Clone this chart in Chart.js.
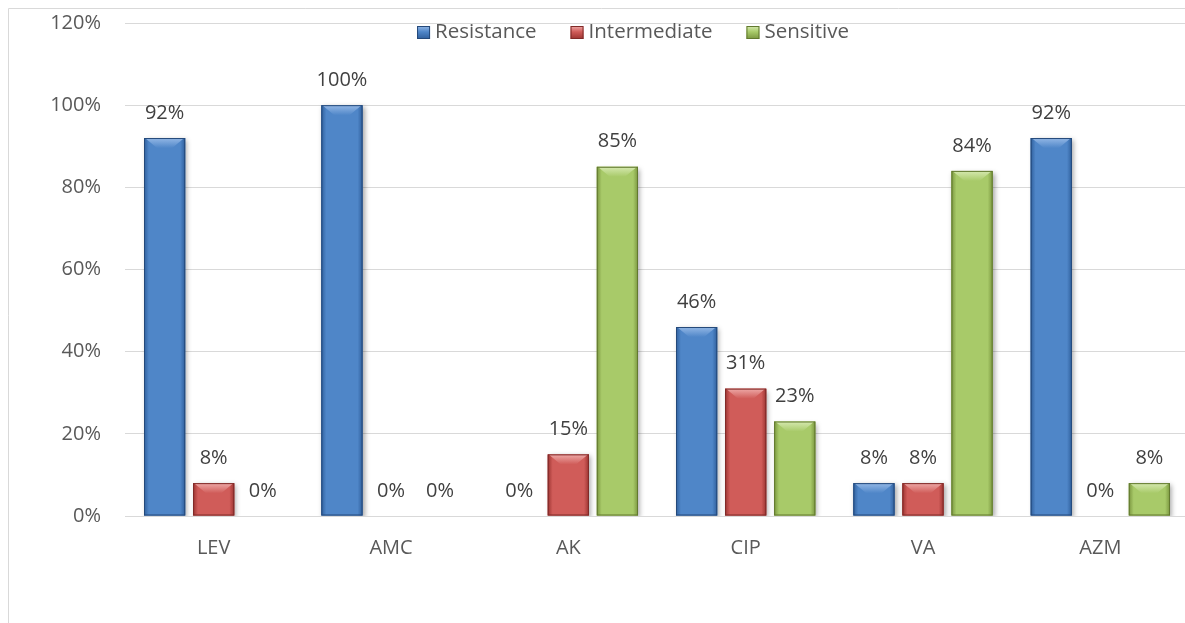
<!DOCTYPE html>
<html>
<head>
<meta charset="utf-8">
<script src="https://cdn.jsdelivr.net/npm/chart.js@4.4.1/dist/chart.umd.min.js"></script>
<style>
  html, body { margin: 0; padding: 0; background: #fff; overflow: hidden; }
  #wrap { width: 1195px; height: 623px; }
</style>
</head>
<body>
<div id="wrap"><canvas id="resChart" width="1195" height="623"></canvas></div>
<script>
var categories = ["LEV", "AMC", "AK", "CIP", "VA", "AZM"];
var resistance = [92, 100, 0, 46, 8, 92];
var intermediate = [8, 0, 15, 31, 8, 0];
var sensitive = [0, 0, 85, 23, 84, 8];
var yTicks = [0, 20, 40, 60, 80, 100, 120];

var FONT = '"Open Sans", "Liberation Sans", sans-serif';

// edge / middle / bevel / border shades per series
var shades = [
    { edge: "#2f5f9c", mid: "#4f86c8", bevel: "#94b8e6", line: "#24497a" },
    { edge: "#9c3431", mid: "#d05c59", bevel: "#eeaaa8", line: "#7f2a28" },
    { edge: "#7a963f", mid: "#a8ca69", bevel: "#d6e9b0", line: "#62792f" }
];

var fancyBars = {
    id: "fancyBars",
    beforeDraw: function(chart) {
        var ctx = chart.ctx;
        ctx.save();
        ctx.strokeStyle = "#d9d9d9";
        ctx.lineWidth = 1;
        ctx.beginPath();
        ctx.moveTo(8.5, chart.height);
        ctx.lineTo(8.5, 8.5);
        ctx.lineTo(chart.width, 8.5);
        ctx.stroke();
        ctx.restore();
    },
    beforeDatasetsDraw: function(chart) {
        var ctx = chart.ctx;
        ctx.save();
        ctx.shadowColor = "rgba(0,0,0,0.35)";
        ctx.shadowBlur = 5;
        ctx.shadowOffsetX = 2;
        ctx.shadowOffsetY = 2;
    },
    afterDatasetsDraw: function(chart) {
        var ctx = chart.ctx;
        ctx.restore();
        ctx.save();
        chart.data.datasets.forEach(function(ds, di) {
            var meta = chart.getDatasetMeta(di);
            var sh = shades[di];
            meta.data.forEach(function(el, i) {
                var p = el.getProps(["x", "y", "base", "width"], true);
                var left = p.x - p.width / 2, right = p.x + p.width / 2;
                var top = p.y, h = p.base - p.y;
                if (h >= 1) {
                    var g = ctx.createLinearGradient(left, 0, right, 0);
                    g.addColorStop(0, sh.edge);
                    g.addColorStop(0.12, sh.mid);
                    g.addColorStop(0.88, sh.mid);
                    g.addColorStop(1, sh.edge);
                    ctx.fillStyle = g;
                    ctx.fillRect(left, top, p.width, h);
                    var bv = Math.min(10, h);
                    var vg = ctx.createLinearGradient(0, top, 0, top + bv);
                    vg.addColorStop(0, sh.bevel);
                    vg.addColorStop(1, sh.mid);
                    ctx.fillStyle = vg;
                    ctx.beginPath();
                    ctx.moveTo(left + 1, top);
                    ctx.lineTo(right - 1, top);
                    ctx.lineTo(right - 1 - bv * 1.2, top + bv);
                    ctx.lineTo(left + 1 + bv * 1.2, top + bv);
                    ctx.closePath();
                    ctx.fill();
                    ctx.strokeStyle = sh.line;
                    ctx.lineWidth = 1;
                    ctx.strokeRect(left + 0.5, top + 0.5, p.width - 1, h - 1);
                }
                ctx.fillStyle = "#404040";
                ctx.font = "20px " + FONT;
                ctx.textAlign = "center";
                ctx.textBaseline = "middle";
                ctx.fillText(ds.data[i] + "%", p.x, top - 25);
            });
        });
        ctx.restore();
    },
    afterDraw: function(chart) {
        // legend drawn inside the plot, centred like the original
        var ctx = chart.ctx;
        ctx.save();
        ctx.font = "20.5px " + FONT;
        ctx.textBaseline = "middle";
        ctx.textAlign = "left";
        var items = chart.data.datasets.map(function(ds) {
            return { text: ds.label, w: ctx.measureText(ds.label).width };
        });
        var total = 0;
        items.forEach(function(it, k) { total += 18 + it.w + (k < items.length - 1 ? 34 : 0); });
        var x = 633 - total / 2;
        items.forEach(function(it, k) {
            var sh = shades[k];
            var g = ctx.createLinearGradient(0, 26, 0, 39);
            g.addColorStop(0, sh.bevel);
            g.addColorStop(0.45, sh.mid);
            g.addColorStop(1, sh.edge);
            ctx.fillStyle = g;
            ctx.fillRect(x, 26, 13, 13);
            ctx.strokeStyle = sh.line;
            ctx.strokeRect(x + 0.5, 26.5, 12, 12);
            ctx.fillStyle = "#595959";
            ctx.fillText(it.text, x + 18, 32);
            x += 18 + it.w + 34;
        });
        ctx.restore();
    }
};

new Chart(document.getElementById("resChart"), {
    type: "bar",
    data: {
        labels: categories,
        datasets: [
            { label: "Resistance", data: resistance, backgroundColor: shades[0].mid },
            { label: "Intermediate", data: intermediate, backgroundColor: shades[1].mid },
            { label: "Sensitive", data: sensitive, backgroundColor: shades[2].mid }
        ]
    },
    options: {
        responsive: false,
        animation: false,
        devicePixelRatio: 1,
        layout: { padding: { top: 23, right: 6, left: 0, bottom: 0 } },
        categoryPercentage: 0.83,
        barPercentage: 0.84,
        plugins: {
            legend: { display: false },
            tooltip: { enabled: false }
        },
        scales: {
            x: {
                grid: { display: false, drawTicks: false },
                border: { display: false },
                ticks: { color: "#595959", font: { family: FONT, size: 20 }, padding: 20 },
                afterFit: function(scale) { scale.height = 107; }
            },
            y: {
                min: yTicks[0],
                max: yTicks[yTicks.length - 1],
                afterBuildTicks: function(scale) {
                    scale.ticks = yTicks.map(function(v) { return { value: v }; });
                },
                grid: { color: "#d9d9d9", lineWidth: 1, drawTicks: false },
                border: { display: false },
                ticks: {
                    color: "#595959",
                    font: { family: FONT, size: 20 },
                    padding: 24,
                    callback: function(v) { return v + "%"; }
                },
                afterFit: function(scale) {
                    scale.width = 125;
                    scale.paddingTop = 0;
                    scale.paddingBottom = 0;
                }
            }
        }
    },
    plugins: [fancyBars]
});
</script>
</body>
</html>
